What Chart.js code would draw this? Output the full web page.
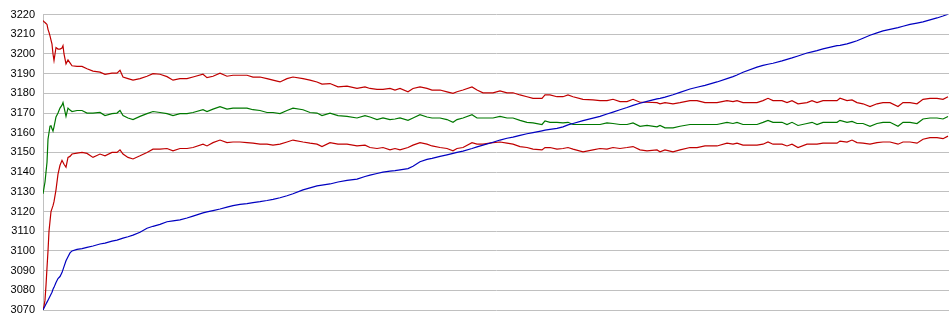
<!DOCTYPE html>
<html>
<head>
<meta charset="utf-8">
<title>chart</title>
<script src="https://cdn.jsdelivr.net/npm/chart.js@4"></script>
<style>
    body { margin: 0; background: #ffffff; }
    #box { width: 950px; height: 335px; }
</style>
</head>
<body>
<div id="box"><canvas id="canvasChart"></canvas></div>
<script>
// x positions of the samples (step number)
var steps = [0,1,2,3,4,5,6,7,8,9,10,11,13,15,17,19,20,21,23,25,27,29,
    34,39,44,50,57,62,69,74,77,80,85,90,97,104,110,117,124,130,137,144,
    150,160,164,170,177,184,190,197,204,210,217,224,230,237,244,250,260,267,274,279,
    287,295,304,314,
    322,327,334,340,347,352,357,365,370,377,384,389,397,404,410,414,420,429,434,440,
    450,457,464,470,477,484,490,499,502,507,514,520,525,530,540,550,557,564,570,577,
    584,590,597,604,
    614,617,622,630,637,647,654,662,674,684,690,694,700,714,720,725,730,739,744,749,
    755,764,769,774,780,794,797,804,809,814,820,827,834,840,847,855,860,867,874,880,
    887,894,900,905];

// upper red line
var upperValues = [3217,3216.3,3216,3215.5,3215,3212.5,3211,3209.2,3207,3205,3200,3196.7,3203.3,3202.5,3202.5,3203,3204.2,3200,3195,3197,3195.5,3194,
    3193.7,3193.7,3192.5,3191.3,3190.8,3189.7,3190.3,3190.3,3191.7,3188.3,3187.5,3186.7,3187.5,3188.7,3190,3189.7,3188.5,3186.7,3187.5,3187.5,
    3188.3,3189.7,3188,3188.7,3190.3,3188.7,3189.2,3189.2,3189.2,3188.3,3188.3,3187.5,3186.7,3185.8,3187.5,3188.3,3187.5,3186.7,3185.8,3184.7,
    3185,3183.3,3183.7,3182.5,
    3183.3,3182.5,3182,3182,3182.5,3181.7,3182.5,3180.8,3182.5,3183.3,3182.5,3181.7,3181.7,3180.8,3180,3180.8,3181.7,3183.3,3181.7,3180.3,
    3180.3,3181.3,3180.3,3180.3,3179.2,3178.3,3177.5,3177.5,3179.2,3179.2,3178.3,3178.3,3179.2,3178.3,3177,3176.7,3176.3,3176.3,3177,3175.8,
    3175.8,3177,3175.5,3175.5,
    3175.3,3174.7,3175.3,3174.7,3175.3,3176.3,3176.3,3175.3,3175.3,3176.3,3175.8,3176.3,3175.3,3175.3,3176.3,3177.5,3176.3,3176.3,3175.3,3176.3,
    3174.7,3175.3,3176.3,3175.3,3176.3,3176.3,3177.5,3176.3,3176.7,3175.3,3174.7,3173.3,3174.7,3175.3,3175.3,3173.3,3175.3,3175.3,3174.7,3177,
    3177.5,3177.5,3177,3178.3];

// middle green line
var middleValues = [3129,3132,3135,3140,3145,3156.7,3160,3163.3,3163.5,3162,3160.8,3163,3168,3170,3172.5,3174,3175.3,3173,3168.3,3172.5,3171.5,3170.8,
    3171.3,3171.3,3170,3170,3170.3,3168.7,3169.7,3170,3171.3,3168.7,3167.5,3166.7,3168.3,3169.7,3170.8,3170.3,3169.7,3168.7,3169.7,3169.7,
    3170.3,3171.7,3170.8,3172,3173.3,3172,3172.5,3172.5,3172.5,3171.7,3171.3,3170.3,3170.3,3169.7,3171.3,3172.5,3171.7,3170.3,3170,3168.7,
    3170,3168.7,3168.3,3167.5,
    3168.7,3168,3166.7,3167.5,3166.7,3167,3167.5,3166.3,3167.5,3169.2,3168,3167.5,3167.5,3166.7,3165.3,3166.7,3167.5,3169.2,3167.5,3167.5,
    3167.5,3168.3,3167.5,3167.5,3166.3,3165.3,3165,3164.2,3166,3165.3,3165.3,3165,3165.3,3164.2,3164.2,3164.2,3164.2,3165,3164.7,3164.2,
    3164.2,3165,3163.3,3163.7,
    3163,3163.7,3162.5,3162.5,3163.3,3164.2,3164.2,3164.2,3164.2,3165.3,3164.7,3165.3,3164.2,3164.2,3165.3,3166.3,3165.3,3165.3,3164.2,3165.3,
    3163.7,3164.7,3165.3,3164.2,3165.3,3165.3,3166.3,3165.3,3165.8,3164.7,3164.7,3163.3,3164.7,3165.3,3165.3,3163.3,3165.3,3165.3,3164.7,3167,
    3167.5,3167.5,3167,3168.3];

// lower red line
var lowerValues = [3070,3072,3075,3082.5,3091.5,3100,3110,3115,3120,3121.5,3123,3125,3131,3139,3143.5,3146,3145,3144,3142.5,3147.5,3148,3149.2,
    3149.7,3150,3149.5,3147.5,3149.2,3148.3,3150,3150,3151.3,3149.2,3147.5,3146.7,3148.3,3150,3151.7,3151.7,3152,3150.8,3152,3152,
    3152.5,3154.2,3153.3,3155,3156.3,3155,3155.3,3155.3,3155,3154.7,3154.2,3154.2,3153.7,3154.2,3155.3,3156.3,3155.3,3154.7,3154.2,3153,
    3155,3154.2,3154.2,3153.3,
    3153.7,3152.5,3152,3152.5,3151.3,3152,3151.3,3152.5,3153.7,3155,3154.2,3153.3,3152.5,3152,3150.8,3152,3152.5,3155,3154.2,3154.2,
    3155,3155.3,3154.7,3154.2,3153,3152.5,3151.7,3151.3,3152.5,3152.5,3151.7,3152,3152.5,3151.7,3150.3,3151.3,3152,3151.7,3152.5,3152,
    3152.5,3153,3151.3,3150.8,
    3151.3,3150.3,3151.3,3150.3,3151.3,3152.5,3152.5,3153.3,3153.3,3154.7,3154.2,3154.7,3153.7,3153.7,3154.2,3155.3,3154.2,3154.2,3153.3,3154.2,
    3152.5,3154.2,3154.2,3154.2,3154.7,3154.7,3155.8,3155.3,3156.3,3155,3154.7,3154.2,3155,3155.3,3155.3,3154.2,3155.3,3155.3,3154.7,3156.7,
    3157.5,3157.5,3157,3158.3];

// rising blue line
var trendValues = [3070,3071,3072,3073,3074,3075,3076,3077,3078,3079,3080.5,3081.5,3084,3086,3087,3089,3090.5,3092,3095,3097,3099,3100,
    3100.8,3101.2,3101.8,3102.5,3103.5,3104,3105,3105.5,3106,3106.5,3107.2,3108,3109.5,3111.5,3112.5,3113.5,3114.8,3115.3,3115.8,3116.7,
    3117.7,3119.3,3119.8,3120.5,3121.3,3122.2,3123,3123.6,3124,3124.5,3125,3125.6,3126.2,3127,3128,3129,3131,3132,3133,3133.4,
    3134,3135,3135.8,3136.5,
    3137.8,3138.5,3139.3,3140,3140.5,3140.8,3141.2,3141.8,3143,3145.3,3146.5,3147,3148,3148.8,3149.5,3150,3150.7,3152,3152.8,3153.7,
    3155.2,3156.3,3157.2,3157.8,3158.7,3159.5,3160.1,3161,3161.3,3161.7,3162.2,3163,3164,3164.7,3166.2,3167.4,3168.3,3169.5,3170.5,3171.7,
    3172.8,3173.9,3175,3175.9,
    3177.2,3177.5,3178.1,3179.3,3180.5,3182.2,3183.1,3184.1,3185.8,3187.5,3188.5,3189.3,3190.7,3193.3,3194.2,3194.8,3195.3,3196.5,3197.3,3198,
    3199,3200.5,3201.1,3201.7,3202.6,3204.2,3204.4,3205.1,3205.9,3206.7,3208,3209.5,3210.7,3211.7,3212.5,3213.4,3214.1,3215,3215.7,3216.3,
    3217.3,3218.3,3219.3,3220.2];

// y axis range
var yMin = 3070;
var yMax = 3220;
var yStep = 10;

var go = {};

document.addEventListener("DOMContentLoaded", main);

// pair the steps with one series
function toPoints(values)
{
    var points = [];
    for (var i = 0; i < steps.length; ++i)
        points.push({ x: steps[i], y: values[i] });
    return points;
}

function makeLine(values, color)
{
    return {
        data: toPoints(values),
        borderColor: color,
        borderWidth: 1.2,
        pointRadius: 0,
        tension: 0,
        fill: false
    };
}

function main()
{
    var config = {
        type: "line",
        data: {
            datasets: [
                makeLine(trendValues, "#0000c0"),
                makeLine(upperValues, "#c00000"),
                makeLine(middleValues, "#007800"),
                makeLine(lowerValues, "#c00000")
            ]
        },
        options: {
            responsive: true,
            maintainAspectRatio: false,
            animation: false,
            layout: { padding: { top: 10, bottom: 25, left: 0, right: 1 } },
            plugins: {
                legend: { display: false },
                tooltip: { enabled: false }
            },
            scales: {
                x: {
                    type: "linear",
                    min: 0,
                    max: 906,
                    display: false
                },
                y: {
                    min: yMin,
                    max: yMax,
                    afterFit: function (scale) { scale.width = 43; },
                    ticks: {
                        stepSize: yStep,
                        padding: 8,
                        color: "#000000",
                        font: { family: "Arial, 'Liberation Sans'", size: 11 },
                        // plain numbers, no thousands separator
                        callback: function (value) { return String(value); }
                    },
                    grid: {
                        color: "#c0c0c0",
                        drawTicks: false
                    },
                    border: { color: "#c0c0c0" }
                }
            }
        }
    };

    go.chart = new Chart(document.getElementById("canvasChart").getContext("2d"), config);
}
</script>
</body>
</html>
